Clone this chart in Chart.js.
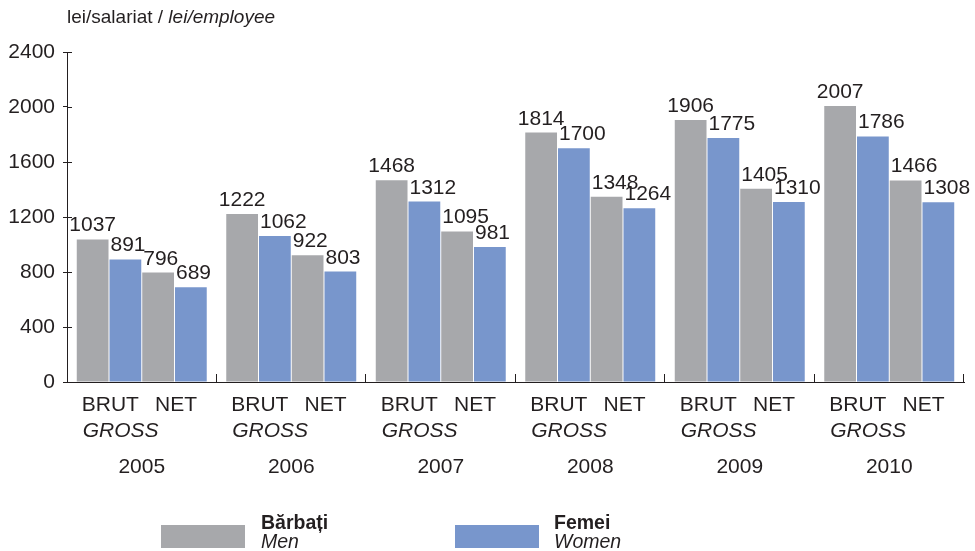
<!DOCTYPE html>
<html>
<head>
<meta charset="utf-8">
<script src="https://cdn.jsdelivr.net/npm/chart.js@4"></script>
<style>
  html, body { margin: 0; padding: 0; background: #fff; }
  #wrap { width: 975px; height: 551px; position: relative; }
</style>
</head>
<body>
<div id="wrap"><canvas id="drawChart" width="975" height="551"></canvas></div>
<script>
// data
const years = ['2005', '2006', '2007', '2008', '2009', '2010'];
const menGross = [1037, 1222, 1468, 1814, 1906, 2007];
const womenGross = [891, 1062, 1312, 1700, 1775, 1786];
const menNet = [796, 922, 1095, 1348, 1405, 1466];
const womenNet = [689, 803, 981, 1264, 1310, 1308];
const yTicks = [0, 400, 800, 1200, 1600, 2000, 2400];

const grey = '#a7a8ab';
const blue = '#7896cc';
const ink = '#231f20';
const FONT = "'Liberation Sans', Arial, Helvetica, sans-serif";

const extras = {
    id: 'extras',
    afterDraw(chart) {
        const c = chart.ctx;
        const x = chart.scales.x;
        const y = chart.scales.y;
        const area = chart.chartArea;
        c.save();
        c.fillStyle = ink;
        c.strokeStyle = ink;
        c.lineWidth = 1;

        // unit title
        c.textBaseline = 'middle';
        c.textAlign = 'left';
        c.font = '19px ' + FONT;
        const t1 = 'lei/salariat / ';
        c.fillText(t1, 67, 18);
        const w1 = c.measureText(t1).width;
        c.font = 'italic 19px ' + FONT;
        c.fillText('lei/employee', 67 + w1, 18);

        // inner part of y ticks
        yTicks.forEach(v => {
            const py = Math.round(y.getPixelForValue(v)) + 0.5;
            c.beginPath();
            c.moveTo(area.left, py);
            c.lineTo(area.left + 5, py);
            c.stroke();
        });

        // group ticks on x axis
        const step = x.width / years.length;
        for (let i = 1; i <= years.length; i++) {
            const px = Math.round(x.left + step * i) - 0.5;
            c.beginPath();
            c.moveTo(px, area.bottom);
            c.lineTo(px, area.bottom - 8);
            c.stroke();
        }

        // value labels
        c.font = '21px ' + FONT;
        c.textBaseline = 'alphabetic';
        chart.data.datasets.forEach((ds, di) => {
            const meta = chart.getDatasetMeta(di);
            meta.data.forEach((bar, j) => {
                const left = bar.x - bar.width / 2;
                const txt = String(ds.data[j]);
                if (di === 0) {
                    c.textAlign = 'center';
                    c.fillText(txt, bar.x, bar.y - 8);
                } else {
                    c.textAlign = 'left';
                    c.fillText(txt, left + 1, bar.y - 8);
                }
            });
        });

        // category labels
        const m0 = chart.getDatasetMeta(0);
        const m2 = chart.getDatasetMeta(2);
        const m3 = chart.getDatasetMeta(3);
        years.forEach((yr, j) => {
            const b0 = m0.data[j];
            const left = b0.x - b0.width / 2;
            const netMid = (m2.data[j].x + m3.data[j].x) / 2;
            c.font = '21px ' + FONT;
            c.textAlign = 'left';
            c.fillText('BRUT', left + 5, 411);
            c.textAlign = 'center';
            c.fillText('NET', netMid + 1.5, 411);
            c.font = 'italic 21px ' + FONT;
            c.textAlign = 'left';
            c.fillText('GROSS', left + 6, 437);
            c.font = '21px ' + FONT;
            c.textAlign = 'center';
            c.fillText(yr, x.getPixelForValue(j), 473);
        });

        // legend
        c.fillStyle = grey;
        c.fillRect(161, 525, 84, 23);
        c.fillStyle = blue;
        c.fillRect(455, 525, 84, 23);
        c.fillStyle = ink;
        c.textAlign = 'left';
        c.font = 'bold 19.5px ' + FONT;
        c.fillText('Bărbați', 261, 529);
        c.fillText('Femei', 554, 529);
        c.font = 'italic 19.5px ' + FONT;
        c.fillText('Men', 261, 548);
        c.fillText('Women', 554, 548);
        c.restore();
    }
};

const ctx = document.getElementById('drawChart').getContext('2d');
const myChart = new Chart(ctx, {
    type: 'bar',
    data: {
        labels: years,
        datasets: [
            { label: 'Bărbați BRUT', data: menGross, backgroundColor: grey },
            { label: 'Femei BRUT', data: womenGross, backgroundColor: blue },
            { label: 'Bărbați NET', data: menNet, backgroundColor: grey },
            { label: 'Femei NET', data: womenNet, backgroundColor: blue }
        ]
    },
    options: {
        responsive: false,
        animation: false,
        layout: { padding: { top: 52, right: 11, left: 0, bottom: 0 } },
        datasets: {
            bar: { barPercentage: 0.97, categoryPercentage: 0.876, borderWidth: 0 }
        },
        plugins: {
            legend: { display: false },
            tooltip: { enabled: false }
        },
        scales: {
            x: {
                grid: { display: false },
                border: { display: true, color: ink, width: 1 },
                ticks: { display: false },
                afterFit: function (scale) { scale.height = 169; }
            },
            y: {
                min: 0,
                max: 2400,
                afterBuildTicks: function (scale) {
                    scale.ticks = yTicks.map(v => ({ value: v }));
                },
                grid: { display: true, drawOnChartArea: false, tickLength: 4, color: ink },
                border: { display: true, color: ink, width: 1 },
                ticks: {
                    color: ink,
                    font: { size: 21, family: FONT },
                    padding: 8,
                    callback: function (value) { return String(value); }
                },
                afterFit: function (scale) { scale.width = 67; }
            }
        }
    },
    plugins: [extras]
});
</script>
</body>
</html>
